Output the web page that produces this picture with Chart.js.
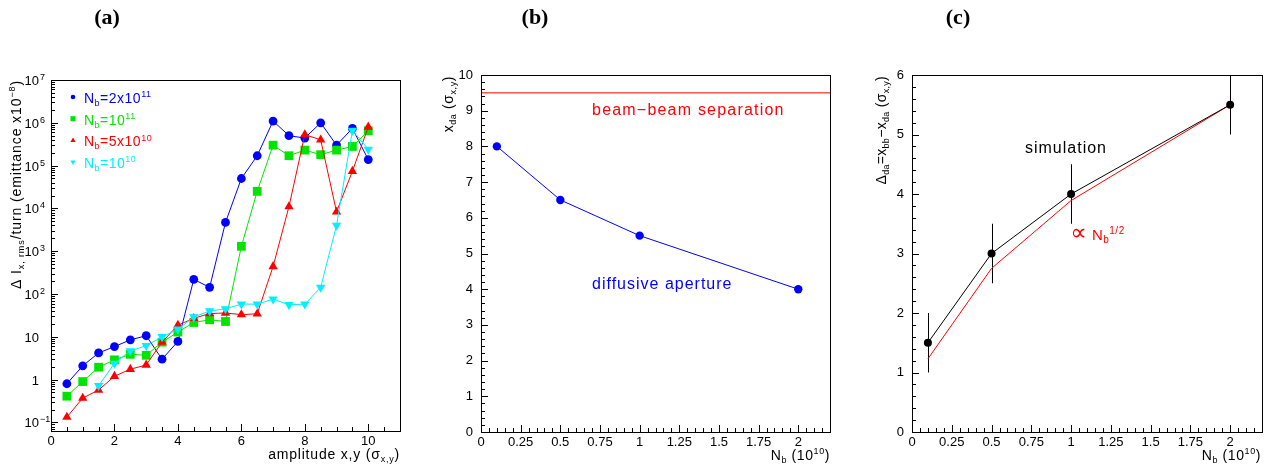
<!DOCTYPE html>
<html>
<head>
<meta charset="utf-8">
<script src="https://cdn.jsdelivr.net/npm/chart.js@4.4.1/dist/chart.umd.min.js"></script>
<style>
  body { margin: 0; background: #fff; }
  #wrap { position: relative; width: 1270px; height: 470px; overflow: hidden; background: #fff; }
  #wrap canvas { position: absolute; left: 0; top: 0; }
  .tag { position: absolute; top: 4px; font: bold 22px "Liberation Serif", "DejaVu Serif", serif; transform: translateX(-50%); color: #000; }
</style>
</head>
<body>
<div id="wrap">
  <canvas id="chartA" width="1270" height="470"></canvas>
  <canvas id="chartB" width="1270" height="470"></canvas>
  <canvas id="chartC" width="1270" height="470"></canvas>
  <div class="tag" style="left:107px">(a)</div>
  <div class="tag" style="left:535px">(b)</div>
  <div class="tag" style="left:958px">(c)</div>
</div>
<script>
// (a) emittance growth per turn vs. amplitude, one series per bunch population
const amplitude = [0.5, 1, 1.5, 2, 2.5, 3, 3.5, 4, 4.5, 5, 5.5, 6, 6.5, 7, 7.5, 8, 8.5, 9, 9.5, 10];
const growth2e11 = [0.8, 2.1, 4.2, 5.9, 8.5, 10.6, 3.0, 7.8, 220, 143, 4700, 50000, 170000, 1.1e6, 5e5, 4.4e5, 1e6, 3e5, 7.4e5, 1.38e5];
const growth1e11 = [0.41, 0.9, 1.95, 2.9, 3.9, 3.7, 7.5, 12.9, 21.6, 25, 22.8, 1300, 25000, 3e5, 1.7e5, 2.3e5, 1.8e5, 2.3e5, 2.8e5, 6.5e5];
const growth5e10 = [0.133, 0.37, 0.57, 1.2, 1.75, 2.2, 7.5, 18.7, 27, 35, 36, 33, 34.5, 440, 11000, 5.3e5, 4e5, 8300, 74000, 8e5];
const growth1e10 = [null, null, 0.72, 2.4, 4.7, 6.2, 10, 15, 29, 40, 45, 58, 58, 76, 56, 58, 143, 4000, 6.6e5, 2.4e5];
const ampTicks = [0, 2, 4, 6, 8, 10];
const decadeTicks = [0.1, 1, 10, 1e2, 1e3, 1e4, 1e5, 1e6, 1e7];

// (b) diffusive aperture and (c) its distance to the beam-beam separation
const bunchPop = [0.1, 0.5, 1, 2];
const diffAperture = [8, 6.5, 5.5, 4];
const bbSeparation = 9.5;
const apertureGap = [1.5, 3, 4, 5.5];
const apertureGapErr = [0.5, 0.5, 0.5, 0.5];
const sqrtLaw = [1.23, 2.75, 3.89, 5.5];
const bunchTicks = [0, 0.25, 0.5, 0.75, 1, 1.25, 1.5, 1.75, 2];
const apertureTicks = [0, 1, 2, 3, 4, 5, 6, 7, 8, 9, 10];
const gapTicks = [0, 1, 2, 3, 4, 5, 6];

const FONT = '"Liberation Sans", "DejaVu Sans", sans-serif';
const H = 470;

// text with sub/superscripts: parts = [[text, 0 | 1 (sup) | -1 (sub), optional scale], ...]
function richText(ctx, parts, x, y, o) {
  const size = o.size || 14;
  const small = Math.round(size * 0.64);
  ctx.save();
  ctx.fillStyle = o.color || '#000';
  ctx.textBaseline = 'alphabetic';
  ctx.textAlign = 'left';
  if ('letterSpacing' in ctx) ctx.letterSpacing = (o.spacing || 0) + 'px';
  const fontFor = (m, k) => Math.round((m ? small : size) * (k || 1)) + 'px ' + FONT;
  const widths = parts.map(([t, m, k]) => { ctx.font = fontFor(m, k); return ctx.measureText(t).width; });
  const total = widths.reduce((s, w) => s + w, 0);
  let cx = o.align === 'right' ? x - total : o.align === 'center' ? x - total / 2 : x;
  parts.forEach(([t, m, k], i) => {
    ctx.font = fontFor(m, k);
    const dy = m > 0 ? -size * 0.42 : m < 0 ? size * 0.22 : 0;
    ctx.fillText(t, cx, y + dy);
    cx += widths[i];
  });
  ctx.restore();
}

function rotatedText(ctx, parts, x, y, o) {
  ctx.save();
  ctx.translate(x, y);
  ctx.rotate(-Math.PI / 2);
  richText(ctx, parts, 0, 0, o);
  ctx.restore();
}

// frame with inward ticks on the left and bottom axes
const rootFrame = {
  id: 'rootFrame',
  afterDraw(chart, args, opts) {
    const { ctx, chartArea: a } = chart;
    const xs = chart.scales.x, ys = chart.scales.y;
    ctx.save();
    ctx.strokeStyle = '#000';
    ctx.lineWidth = 1;
    ctx.beginPath();
    const tickX = (v, len) => {
      const p = Math.round(xs.getPixelForValue(v)) + 0.5;
      ctx.moveTo(p, a.bottom); ctx.lineTo(p, a.bottom - len);
    };
    const tickY = (v, len) => {
      const p = Math.round(ys.getPixelForValue(v)) + 0.5;
      ctx.moveTo(a.left, p); ctx.lineTo(a.left + len, p);
    };
    xs.ticks.forEach(t => tickX(t.value, opts.major));
    const nx = Math.round((xs.max - xs.min) / opts.minorX);
    for (let i = 0; i <= nx; i++) tickX(xs.min + i * opts.minorX, opts.minor);
    if (ys.type === 'logarithmic') {
      decadeTicks.forEach(v => tickY(v, opts.major));
      for (let e = Math.floor(Math.log10(ys.min)); e < Math.log10(ys.max); e++) {
        for (let m = 2; m <= 9; m++) {
          const v = m * Math.pow(10, e);
          if (v >= ys.min && v <= ys.max) tickY(v, opts.minor);
        }
      }
    } else {
      ys.ticks.forEach(t => tickY(t.value, opts.major));
      const ny = Math.round((ys.max - ys.min) / opts.minorY);
      for (let i = 0; i <= ny; i++) tickY(ys.min + i * opts.minorY, opts.minor);
    }
    ctx.stroke();
    ctx.strokeRect(a.left + 0.5, a.top + 0.5, a.right - a.left, a.bottom - a.top);
    ctx.restore();
  }
};

function xScale(min, max, ticks, bottom) {
  return {
    type: 'linear', min, max,
    grid: { display: false, drawTicks: false }, border: { display: false },
    ticks: { color: '#000', font: { family: FONT, size: 13 }, padding: 3, maxRotation: 0, autoSkip: false, callback: v => String(v) },
    afterBuildTicks: s => { s.ticks = ticks.map(v => ({ value: v })); },
    afterFit: s => { s.height = H - bottom; }
  };
}

function yScale(min, max, ticks, left) {
  return {
    type: 'linear', min, max,
    grid: { display: false, drawTicks: false }, border: { display: false },
    ticks: { color: '#000', font: { family: FONT, size: 13 }, padding: 8, autoSkip: false, callback: v => String(v) },
    afterBuildTicks: s => { s.ticks = ticks.map(v => ({ value: v })); },
    afterFit: s => { s.width = left; }
  };
}

function baseOptions(box) {
  return {
    responsive: false, animation: false, events: [],
    layout: { padding: { left: 0, top: box.top, right: 1270 - box.right, bottom: 0 } },
    plugins: { legend: { display: false }, tooltip: { enabled: false }, rootFrame: { major: 7, minor: 4 } }
  };
}

const pts = (xs, ys) => xs.map((x, i) => ({ x, y: ys[i] }));

// ---------- (a) ----------
const seriesA = [
  { data: growth2e11, color: '#0000ff', style: 'circle', r: 4.4, rot: 0, legendR: 2.3,
    label: [['N', 0], ['b', -1], ['=2x10', 0], ['11', 1]] },
  { data: growth1e11, color: '#00e400', style: 'rect', r: 6.2, rot: 0, legendR: 3.6,
    label: [['N', 0], ['b', -1], ['=10', 0], ['11', 1]] },
  { data: growth5e10, color: '#ff0000', style: 'triangle', r: 5.4, rot: 0, legendR: 3,
    label: [['N', 0], ['b', -1], ['=5x10', 0], ['10', 1]] },
  { data: growth1e10, color: '#00f0ff', style: 'triangle', r: 5.4, rot: 180, legendR: 3,
    label: [['N', 0], ['b', -1], ['=10', 0], ['10', 1]] }
];

const boxA = { left: 51, top: 80, right: 400, bottom: 431 };
const optA = baseOptions(boxA);
optA.plugins.rootFrame.minorX = 0.5;
optA.scales = {
  x: xScale(0, 11, ampTicks, boxA.bottom),
  y: {
    type: 'logarithmic', min: 0.063, max: 1e7,
    grid: { display: false, drawTicks: false }, border: { display: false },
    ticks: { display: false },
    afterBuildTicks: s => { s.ticks = decadeTicks.map(v => ({ value: v })); },
    afterFit: s => { s.width = boxA.left; }
  }
};

const labelsA = {
  id: 'labelsA',
  afterDraw(chart) {
    const { ctx, chartArea: a } = chart;
    const ys = chart.scales.y;
    // decade labels 10^n
    ctx.save();
    ctx.fillStyle = '#000';
    ctx.textBaseline = 'alphabetic';
    decadeTicks.forEach(v => {
      const y = ys.getPixelForValue(v);
      const e = Math.round(Math.log10(v));
      const xr = a.left - 12;
      ctx.font = '13px ' + FONT;
      ctx.textAlign = 'right';
      ctx.fillText(e === 0 ? '1' : '10', xr, y + 5);
      if (e !== 0 && e !== 1) {
        ctx.font = '9px ' + FONT;
        ctx.textAlign = 'left';
        ctx.fillText(e < 0 ? '\u2212' + (-e) : String(e), xr + 1, y);
      }
    });
    ctx.restore();

    // legend
    seriesA.forEach((s, i) => {
      const my = a.top + 17 + i * 21.7;
      ctx.save();
      ctx.fillStyle = s.color;
      Chart.helpers.drawPoint(ctx, { pointStyle: s.style, radius: s.legendR, rotation: s.rot, borderWidth: 0 }, a.left + 22, my);
      ctx.restore();
      richText(ctx, s.label, a.left + 33, my + 6, { size: 14, color: s.color, spacing: 0.5 });
    });

    // axis titles
    richText(ctx, [['amplitude x,y (\u03c3', 0], ['x,y', -1], [')', 0]], a.right, 459,
      { size: 14, spacing: 0.8, align: 'right' });
    rotatedText(ctx, [['\u0394 I', 0], ['x, rms', -1], ['/turn (emittance x10', 0], ['\u22128', 1], [')', 0]],
      21, a.top, { size: 14, spacing: 0.9, align: 'right' });
  }
};

new Chart(document.getElementById('chartA'), {
  type: 'line',
  data: {
    datasets: seriesA.map((s, i) => ({
      data: pts(amplitude, s.data),
      borderColor: s.color, backgroundColor: s.color,
      pointBackgroundColor: s.color, pointBorderWidth: 0,
      pointStyle: s.style, pointRadius: s.r, pointRotation: s.rot,
      borderWidth: 1, tension: 0, order: seriesA.length - 1 - i
    }))
  },
  options: optA,
  plugins: [rootFrame, labelsA]
});

// ---------- (b) ----------
const boxB = { left: 481, top: 75, right: 830, bottom: 432 };
const optB = baseOptions(boxB);
optB.layout.padding.left = boxB.left - 60;
optB.plugins.rootFrame.minorX = 0.05;
optB.plugins.rootFrame.minorY = 0.2;
optB.scales = { x: xScale(0, 2.2, bunchTicks, boxB.bottom), y: yScale(0, 10, apertureTicks, 60) };

const labelsB = {
  id: 'labelsB',
  afterDraw(chart) {
    const { ctx, chartArea: a } = chart;
    const xs = chart.scales.x, ys = chart.scales.y;
    richText(ctx, [['beam\u2212beam separation', 0]], xs.getPixelForValue(0.7), ys.getPixelForValue(8.88),
      { size: 16, color: '#ff0000', spacing: 1.2 });
    richText(ctx, [['diffusive aperture', 0]], xs.getPixelForValue(0.7), ys.getPixelForValue(4.0),
      { size: 16, color: '#0000ff', spacing: 1.0 });
    richText(ctx, [['N', 0], ['b', -1], [' (10', 0], ['10', 1], [')', 0]], a.right, 460,
      { size: 14, spacing: 0.6, align: 'right' });
    rotatedText(ctx, [['x', 0], ['da', -1], [' (\u03c3', 0], ['x,y', -1], [')', 0]], 453, a.top + 1,
      { size: 14, spacing: 0.6, align: 'right' });
  }
};

new Chart(document.getElementById('chartB'), {
  type: 'line',
  data: {
    datasets: [
      {
        data: [{ x: 0, y: bbSeparation }, { x: 2.2, y: bbSeparation }],
        borderColor: '#ff0000', borderWidth: 1, pointRadius: 0, tension: 0, order: 1
      },
      {
        data: pts(bunchPop, diffAperture),
        borderColor: '#0000ff', backgroundColor: '#0000ff', pointBackgroundColor: '#0000ff',
        pointBorderWidth: 0, pointStyle: 'circle', pointRadius: 4.2, borderWidth: 1, tension: 0, order: 0
      }
    ]
  },
  options: optB,
  plugins: [rootFrame, labelsB]
});

// ---------- (c) ----------
const boxC = { left: 912, top: 75, right: 1262, bottom: 432 };
const optC = baseOptions(boxC);
optC.layout.padding.left = boxC.left - 60;
optC.plugins.rootFrame.minorX = 0.05;
optC.plugins.rootFrame.minorY = 0.2;
optC.scales = { x: xScale(0, 2.2, bunchTicks, boxC.bottom), y: yScale(0, 6, gapTicks, 60) };

const errorBars = {
  id: 'errorBars',
  beforeDatasetsDraw(chart) {
    const { ctx } = chart;
    const xs = chart.scales.x, ys = chart.scales.y;
    ctx.save();
    ctx.strokeStyle = '#000';
    ctx.lineWidth = 1;
    ctx.beginPath();
    bunchPop.forEach((nb, i) => {
      const x = Math.round(xs.getPixelForValue(nb)) + 0.5;
      ctx.moveTo(x, ys.getPixelForValue(apertureGap[i] - apertureGapErr[i]));
      ctx.lineTo(x, ys.getPixelForValue(apertureGap[i] + apertureGapErr[i]));
    });
    ctx.stroke();
    ctx.restore();
  }
};

const labelsC = {
  id: 'labelsC',
  afterDraw(chart) {
    const { ctx, chartArea: a } = chart;
    const xs = chart.scales.x, ys = chart.scales.y;
    richText(ctx, [['simulation', 0]], xs.getPixelForValue(0.71), ys.getPixelForValue(4.69),
      { size: 16, color: '#000', spacing: 1.0 });
    richText(ctx, [['\u221d', 0, 1.5], [' N', 0], ['b', -1], ['1/2', 1]], xs.getPixelForValue(0.995), ys.getPixelForValue(3.23),
      { size: 15, color: '#ff0000', spacing: 0.5 });
    richText(ctx, [['N', 0], ['b', -1], [' (10', 0], ['10', 1], [')', 0]], a.right - 1, 460,
      { size: 14, spacing: 0.6, align: 'right' });
    rotatedText(ctx, [['\u0394', 0], ['da', -1], ['=x', 0], ['bb', -1], ['\u2212x', 0], ['da', -1], [' (\u03c3', 0], ['x,y', -1], [')', 0]],
      886, a.top + 1, { size: 14, spacing: 0.3, align: 'right' });
  }
};

new Chart(document.getElementById('chartC'), {
  type: 'line',
  data: {
    datasets: [
      {
        data: pts(bunchPop, sqrtLaw),
        borderColor: '#ff0000', borderWidth: 1, pointRadius: 0, tension: 0, order: 1
      },
      {
        data: pts(bunchPop, apertureGap),
        borderColor: '#000', backgroundColor: '#000', pointBackgroundColor: '#000',
        pointBorderWidth: 0, pointStyle: 'circle', pointRadius: 4, borderWidth: 1, tension: 0, order: 0,
        clip: false
      }
    ]
  },
  options: optC,
  plugins: [errorBars, rootFrame, labelsC]
});
</script>
</body>
</html>
